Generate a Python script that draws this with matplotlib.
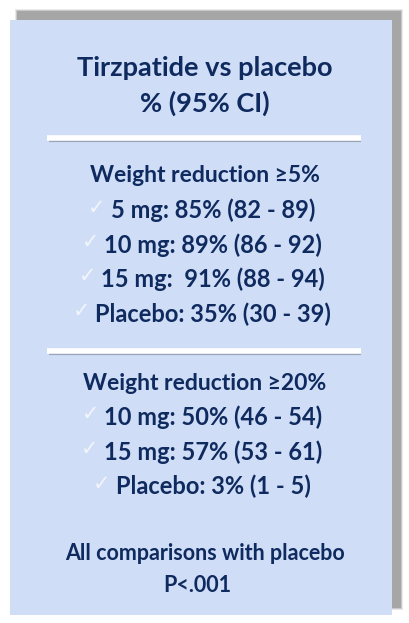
import matplotlib.pyplot as plt
from matplotlib.patches import Rectangle

title = "Tirzpatide vs placebo"
subtitle = "% (95% CI)"
sec1_head = "Weight reduction ≥5%"
sec1_rows = ["5 mg: 85% (82 - 89)", "10 mg: 89% (86 - 92)",
             "15 mg:  91% (88 - 94)", "Placebo: 35% (30 - 39)"]
sec2_head = "Weight reduction ≥20%"
sec2_rows = ["10 mg: 50% (46 - 54)", "15 mg: 57% (53 - 61)", "Placebo: 3% (1 - 5)"]
footer = ["All comparisons with placebo", "P<.001"]

navy = '#0f2a5e'
plt.rcParams['font.family'] = ['Lato', 'DejaVu Sans']

fig = plt.figure(figsize=(4.1, 6.23), dpi=100)
ax = fig.add_axes([0, 0, 1, 1])
ax.set_xlim(0, 410)
ax.set_ylim(623, 0)
ax.axis('off')

# shadow and panel
for i, a in enumerate([0.15, 0.25, 0.4]):
    d = 3 - i
    ax.add_patch(Rectangle((18 - d, 12 - d), 382 + 2 * d, 595 + 2 * d, color='#707070', alpha=a, lw=0))
ax.add_patch(Rectangle((10, 20), 382, 595, color='#cfddf6', lw=0))

cx = 205
ax.text(cx, 68, title, ha='center', va='center', fontsize=19.5, fontweight='bold', color=navy)
ax.text(cx, 103, subtitle, ha='center', va='center', fontsize=19.5, fontweight='bold', color=navy)
for y in (138, 351):
    ax.plot([49, 361], [y + 1.5, y + 1.5], color='#9aa6b8', lw=3, solid_capstyle='butt')
    ax.plot([47, 361], [y, y], color='white', lw=4, solid_capstyle='butt')

def section(head, rows, y0):
    ax.text(cx, y0, head, ha='center', va='center', fontsize=16.5, fontweight='bold', color=navy)
    for k, r in enumerate(rows):
        y = y0 + 34.5 * (k + 1)
        t = ax.text(cx + 8, y, r, ha='center', va='center', fontsize=17, fontweight='bold', color=navy)
        fig.canvas.draw()
        bb = t.get_window_extent()
        ax.text(bb.x0 - 5, y - 3, "✓", ha='right', va='center', fontsize=15, color='#f2f6fc')

section(sec1_head, sec1_rows, 176)
section(sec2_head, sec2_rows, 383)

ax.text(cx, 553, footer[0], ha='center', va='center', fontsize=15.5, fontweight='bold', color=navy)
ax.text(cx - 8, 585, footer[1], ha='center', va='center', fontsize=15.5, fontweight='bold', color=navy)

fig.savefig('out.png', dpi=100)
